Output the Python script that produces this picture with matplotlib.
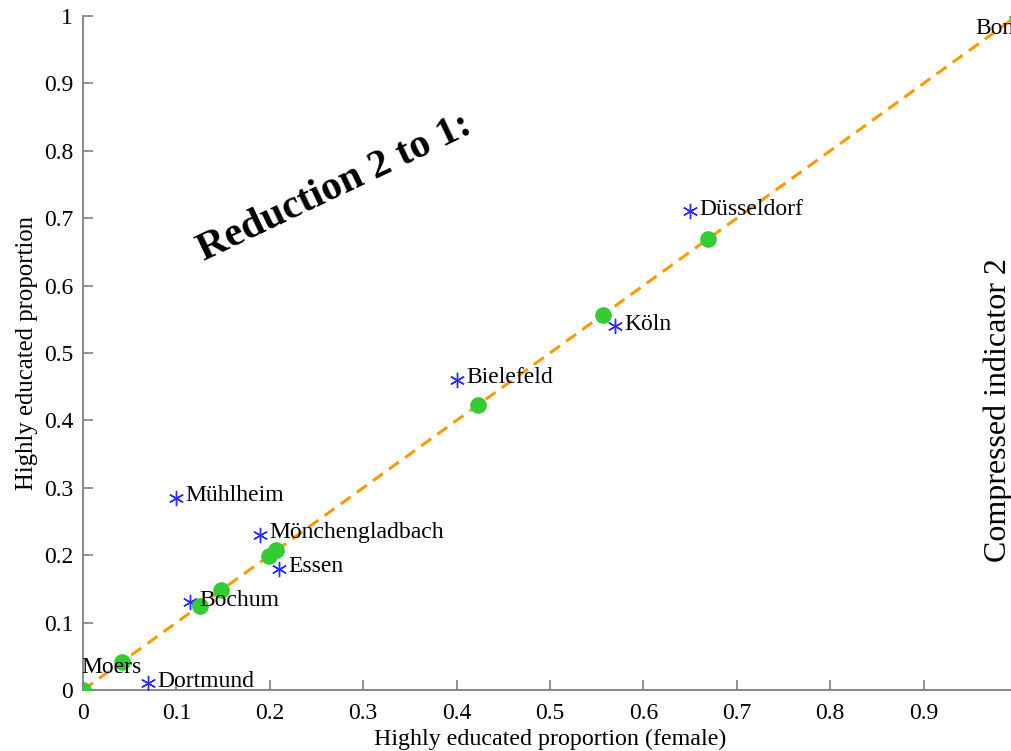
import matplotlib
matplotlib.use("Agg")
import matplotlib.pyplot as plt
from matplotlib.ticker import FuncFormatter

# city data: original points (female, total) and their 1-D projections
cities = ['Moers', 'Dortmund', 'Bochum', 'Mühlheim', 'Mönchengladbach',
          'Essen', 'Bielefeld', 'Köln', 'Düsseldorf', 'Bonn']
female = [0.0, 0.07, 0.115, 0.10, 0.19, 0.21, 0.40, 0.57, 0.65, 1.0]
total = [0.0, 0.01, 0.13, 0.285, 0.23, 0.18, 0.46, 0.54, 0.71, 1.0]
projected = [0.0, 0.042, 0.125, 0.148, 0.199, 0.207, 0.423, 0.557, 0.669, 1.0]

xticks = [0, 0.1, 0.2, 0.3, 0.4, 0.5, 0.6, 0.7, 0.8, 0.9]
yticks = [0, 0.1, 0.2, 0.3, 0.4, 0.5, 0.6, 0.7, 0.8, 0.9, 1]

plt.rcParams['font.family'] = ['Liberation Serif', 'DejaVu Serif']

fig = plt.figure(figsize=(10.12, 7.51), dpi=100)
ax = fig.add_axes([83 / 1012, 61 / 751, 934 / 1012, 674 / 751])

# 投影直线
ax.plot(projected, projected, color='#ff9900', linewidth=2.2,
        dashes=(4, 2.5), zorder=2)
ax.plot(female, total, linestyle='none', marker=(6, 2, 0), color='#2a2aff',
        markersize=11, markeredgewidth=1.0, zorder=3)
ax.plot(projected, projected, linestyle='none', marker='o', color='#33cc33',
        markersize=12, markeredgewidth=0, zorder=4)

# labels: default offset right of the star, a couple placed by hand
label_offset = {'Moers': (-0.002, 0.034), 'Bonn': (-0.045, -0.018)}
for name, x, y in zip(cities, female, total):
    dx, dy = label_offset.get(name, (0.01, 0.003))
    ax.text(x + dx, y + dy, name, fontsize=17, ha='left', va='center',
            zorder=5)

ax.text(0.27, 0.745, 'Reduction 2 to 1:', fontsize=29.5, fontweight='bold',
        rotation=25.5, ha='center', va='center', rotation_mode='anchor')

ax.set_xlim(0, 1)
ax.set_ylim(0, 1)
ax.set_xticks(xticks)
ax.set_yticks(yticks)
fmt = FuncFormatter(lambda v, p: f'{v:g}')
ax.xaxis.set_major_formatter(fmt)
ax.yaxis.set_major_formatter(fmt)
ax.tick_params(direction='in', length=7, width=1.2, color='#808080',
               labelsize=17)
ax.tick_params(axis='x', pad=9.5)
ax.tick_params(axis='y', pad=7)
for side in ['top', 'right']:
    ax.spines[side].set_visible(False)
for side in ['left', 'bottom']:
    ax.spines[side].set_color('#808080')
    ax.spines[side].set_linewidth(1.3)

ax.set_xlabel('Highly educated proportion (female)', fontsize=17.3, labelpad=3)
ax.set_ylabel('Highly educated proportion', fontsize=17.8, labelpad=4)

# neighbouring panel's label, cut off at the right edge
fig.text(0.986, 0.454, 'Compressed indicator 2', fontsize=23, rotation=90,
         ha='center', va='center')

fig.savefig('out.png', dpi=100)
